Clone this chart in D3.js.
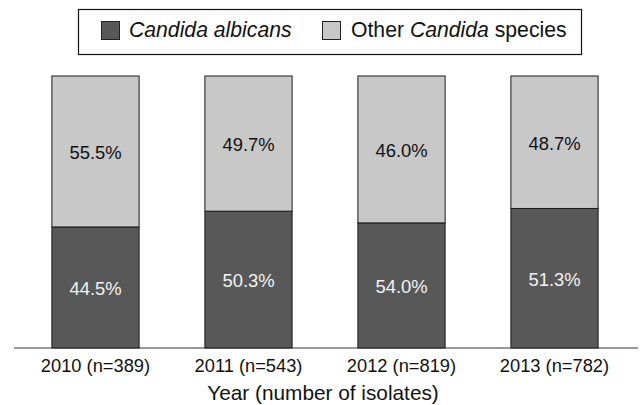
<!DOCTYPE html>
<html><head><meta charset="utf-8">
<script src="https://cdn.jsdelivr.net/npm/d3@7"></script>
<style>body{margin:0;background:#fff}svg{display:block;font-family:"Liberation Sans",Arial,sans-serif}</style>
</head><body>
<svg id="c" width="644" height="405"></svg>
<script>
const categories = ["2010 (n=389)", "2011 (n=543)", "2012 (n=819)", "2013 (n=782)"];
// printed percentage labels
const albicansLabels = [44.5, 50.3, 54.0, 51.3];
const otherLabels = [55.5, 49.7, 46.0, 48.7];
// segment heights as drawn in the picture (2012 segments appear swapped in the original figure)
const albicansDrawn = [44.5, 50.3, 46.0, 51.3];
const otherDrawn = [55.5, 49.7, 54.0, 48.7];
const seriesNames = ["Candida albicans", "Other Candida species"];
const colors = ["#585858", "#c8c8c8"];
const axisTitle = "Year (number of isolates)";

const svg = d3.select("#c");
const x = d3.scaleBand().domain(categories).range([19, 631]).paddingInner(0.43).paddingOuter(0.215);
const y = d3.scaleLinear().domain([0, 100]).range([348, 76]);

const data = categories.map((c, i) => ({cat: c, a: albicansDrawn[i], o: otherDrawn[i], la: albicansLabels[i], lo: otherLabels[i]}));
const stack = d3.stack().keys(["a", "o"])(data);

const g = svg.append("g");
stack.forEach((layer, li) => {
  g.selectAll(null).data(layer).enter().append("rect")
    .attr("x", d => x(d.data.cat))
    .attr("width", x.bandwidth())
    .attr("y", d => y(d[1]))
    .attr("height", d => y(d[0]) - y(d[1]))
    .attr("fill", colors[li])
    .attr("stroke", "#1a1a1a").attr("stroke-width", 1);
  g.selectAll(null).data(layer).enter().append("text")
    .attr("x", d => x(d.data.cat) + x.bandwidth() / 2)
    .attr("y", d => (y(d[0]) + y(d[1])) / 2 + 1)
    .attr("dy", "0.35em")
    .attr("text-anchor", "middle")
    .attr("font-size", 18.4)
    .attr("fill", li === 0 ? "#f2f2f2" : "#111")
    .text(d => (li === 0 ? d.data.la : d.data.lo).toFixed(1) + "%");
});

// x axis
const ax = svg.append("g").attr("transform", "translate(0,348)")
  .call(d3.axisBottom(x).tickSize(0).tickPadding(11));
ax.select(".domain").attr("d", "M14,0H638").attr("stroke", "#333");
ax.selectAll("text").attr("font-size", 18.3).attr("fill", "#111").attr("font-family", "Liberation Sans, Arial, sans-serif");

svg.append("text").attr("x", 323).attr("y", 400).attr("text-anchor", "middle")
  .attr("font-size", 20.8).attr("fill", "#111").text(axisTitle);

// legend
svg.append("rect").attr("x", 78.5).attr("y", 9.5).attr("width", 503).attr("height", 45)
  .attr("fill", "#fff").attr("stroke", "#111").attr("stroke-width", 1.2);
const leg = [
  {sx: 101, tx: 129, parts: [{t: "Candida albicans", i: true}]},
  {sx: 322, tx: 351, parts: [{t: "Other ", i: false}, {t: "Candida", i: true}, {t: " species", i: false}]}
];
leg.forEach((l, k) => {
  svg.append("rect").attr("x", l.sx + 0.5).attr("y", 21.5).attr("width", 18).attr("height", 18)
    .attr("fill", colors[k]).attr("stroke", "#222").attr("stroke-width", 1);
  const t = svg.append("text").attr("x", l.tx).attr("y", 37).attr("font-size", 21.2).attr("fill", "#111");
  l.parts.forEach(p => t.append("tspan").attr("font-style", p.i ? "italic" : "normal").text(p.t));
});
</script>
</body></html>
